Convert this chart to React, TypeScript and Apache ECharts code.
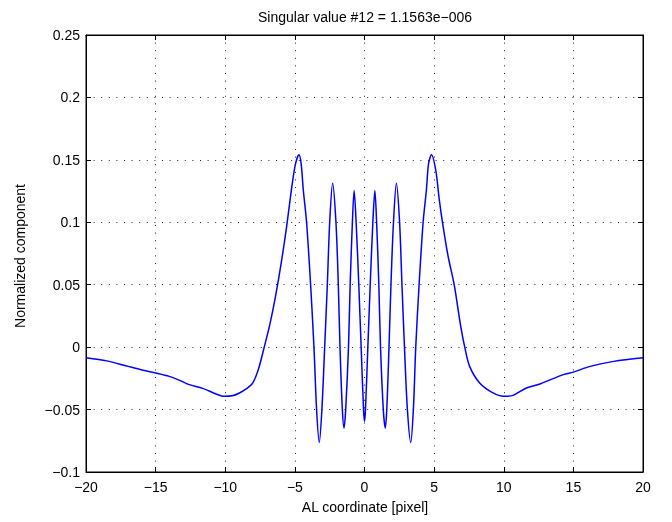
import React, { useEffect, useRef } from "react";
import * as echarts from "echarts";

const titleText = "Singular value #12 = 1.1563e\u2212006";
const xLabel = "AL coordinate [pixel]";
const yLabel = "Normalized component";

const xs = [
  -20, -18.5, -17.14, -15.9, -14.98, -14.02, -13.2, -12.58, -11.62, -10.66, -10.06, -9.5, -8.98, -8.5, -8.02,
  -7.6, -7.2, -6.8, -6.4, -6.0, -5.6, -5.2, -4.95, -4.71, -4.55, -4.4, -4.16, -3.87, -3.63, -3.44, -3.25,
  -3.06, -2.86, -2.67, -2.5, -2.29, -2.05, -1.88, -1.76, -1.59, -1.47,
  -1.35, -1.15, -1.03, -0.87, -0.745, -0.6, -0.41, -0.24, -0.07, 0.0,
  0.07, 0.24, 0.41, 0.6, 0.745, 0.87, 1.03, 1.15, 1.35, 1.49,
  1.6, 1.76, 1.9, 2.08, 2.29, 2.52, 2.69, 2.87, 3.08, 3.32,
  3.51, 3.68, 3.92, 4.21, 4.45, 4.6, 4.81, 5.12, 5.35, 5.6, 6.0, 6.44, 6.92, 7.2, 7.55, 8.27, 9.23, 10.0, 10.67,
  11.63, 12.6, 14.28, 15.0, 16.2, 17.9, 20,
];
const ys = [
  -0.0085, -0.011, -0.0149, -0.0185, -0.0207, -0.0234, -0.027, -0.03, -0.033, -0.0375, -0.0394, -0.039, -0.0367, -0.0335, -0.0287,
  -0.017, 0.0, 0.018, 0.04, 0.066, 0.096, 0.13, 0.147, 0.154, 0.147, 0.1265, 0.1, 0.05, 0.0, -0.05, -0.0764,
  -0.05, 0.0, 0.05, 0.1, 0.1313, 0.1, 0.05, 0.0, -0.05, -0.0649,
  -0.05, 0.0, 0.05, 0.1, 0.1255, 0.1, 0.05, 0.0, -0.05, -0.0596,
  -0.05, 0.0, 0.05, 0.1, 0.1255, 0.1, 0.05, 0.0, -0.05, -0.0649,
  -0.05, 0.0, 0.05, 0.1, 0.1313, 0.1, 0.05, 0.0, -0.05, -0.0764,
  -0.05, 0.0, 0.05, 0.1, 0.1265, 0.147, 0.154, 0.1415, 0.12, 0.1, 0.073, 0.05, 0.016, 0.0, -0.0154, -0.0287, -0.0367, -0.0394, -0.0386,
  -0.0327, -0.0295, -0.022, -0.02, -0.0154, -0.0114, -0.0085,
];

const FONT = "'Liberation Sans', Arial, Helvetica, sans-serif";
const fmt = (v: number) => String(+v.toFixed(2)).replace("-", "\u2212");

export default function App() {
  const ref = useRef<HTMLDivElement>(null);
  useEffect(() => {
    if (!ref.current) return;
    const chart = echarts.init(ref.current, null, { renderer: "svg" });
    const data = xs.map((x, i) => [x, ys[i]]);
    const gridLine = { show: true, lineStyle: { color: "#222", type: [1, 6.6] as any, width: 1 } };
    const tick = { show: true, inside: true, length: 5, lineStyle: { color: "#000" } };
    const line = { show: true, onZero: false, lineStyle: { color: "#000" } };
    chart.setOption({
      animation: false,
      grid: { left: 86, right: 29, top: 35, bottom: 50, show: true, borderColor: "#000", borderWidth: 1, backgroundColor: "#fff" },
      xAxis: [
        {
          type: "value", min: -20, max: 20, interval: 5, position: "bottom",
          axisLine: line, axisTick: tick,
          axisLabel: { color: "#000", fontSize: 14, fontFamily: FONT, margin: 8, formatter: fmt },
          splitLine: gridLine,
        },
        {
          type: "value", min: -20, max: 20, interval: 5, position: "top",
          axisLine: line, axisTick: tick, axisLabel: { show: false }, splitLine: { show: false },
        },
      ],
      yAxis: [
        {
          type: "value", min: -0.1, max: 0.25, interval: 0.05, position: "left",
          axisLine: line, axisTick: tick,
          axisLabel: { color: "#000", fontSize: 14, fontFamily: FONT, margin: 6, formatter: fmt },
          splitLine: gridLine,
        },
        {
          type: "value", min: -0.1, max: 0.25, interval: 0.05, position: "right",
          axisLine: line, axisTick: tick, axisLabel: { show: false }, splitLine: { show: false },
        },
      ],
      graphic: [
        { type: "text", x: 365, y: 17, style: { text: titleText, fontSize: 14, fontFamily: FONT, fill: "#000", textAlign: "center", textVerticalAlign: "middle" } },
        { type: "text", x: 365, y: 507, style: { text: xLabel, fontSize: 14, fontFamily: FONT, fill: "#000", textAlign: "center", textVerticalAlign: "middle" } },
        { type: "text", x: 20, y: 256, rotation: Math.PI / 2, style: { text: yLabel, fontSize: 14, fontFamily: FONT, fill: "#000", textAlign: "center", textVerticalAlign: "middle" } },
      ],
      series: [
        {
          type: "line", data, xAxisIndex: 0, yAxisIndex: 0, showSymbol: false, smooth: 0.3,
          lineStyle: { color: "#0000ff", width: 1.5 }, clip: true,
        },
      ],
    });
    return () => chart.dispose();
  }, []);
  return <div ref={ref} style={{ position: "fixed", left: 0, top: 0, width: 672, height: 522 }} />;
}
